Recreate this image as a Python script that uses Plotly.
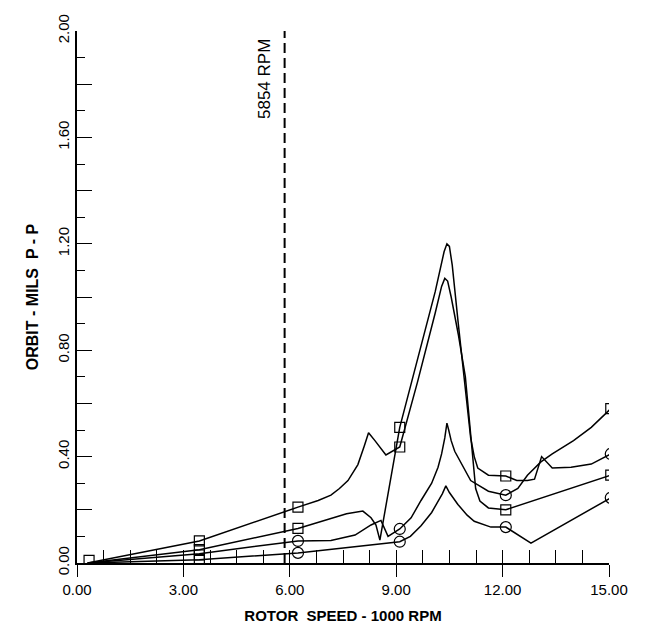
import plotly.graph_objects as go

# ---- data ----
critical_rpm = 5.854  # thousand RPM

curve_a_x = [0.3, 3.45, 6.23, 6.8, 7.16, 7.4, 7.64, 7.92, 8.1, 8.22, 8.4, 8.71, 9.1,
             9.6, 10.1, 10.28, 10.37, 10.45, 10.55, 10.75, 10.95, 11.08, 11.17, 11.24, 11.36, 11.6, 12.09, 15.05]
curve_a_y = [0.0, 0.083, 0.21, 0.235, 0.255, 0.28, 0.31, 0.37, 0.44, 0.49, 0.46, 0.406, 0.436,
             0.68, 0.94, 1.04, 1.07, 1.06, 1.0, 0.86, 0.7, 0.5, 0.36, 0.28, 0.233, 0.207, 0.20, 0.33]

curve_b_x = [0.3, 3.45, 6.23, 7.0, 7.6, 8.06, 8.29, 8.43, 8.54, 9.1,
             9.6, 10.1, 10.35, 10.43, 10.5, 10.58, 10.75, 10.95, 11.1, 11.2, 11.3, 11.6, 12.09,
             12.4, 12.7, 12.9, 13.1, 13.4, 13.93, 14.5, 15.05]
curve_b_y = [0.0, 0.05, 0.13, 0.16, 0.185, 0.195, 0.17, 0.143, 0.086, 0.51,
             0.76, 1.02, 1.17, 1.2, 1.19, 1.12, 0.9, 0.64, 0.47, 0.40, 0.357, 0.33, 0.327,
             0.31, 0.31, 0.315, 0.40, 0.357, 0.36, 0.372, 0.41]

curve_c_x = [0.3, 3.45, 6.23, 6.6, 7.16, 7.84, 8.29, 8.57, 8.77, 9.1,
             9.42, 9.7, 10.0, 10.18, 10.28, 10.37, 10.43, 10.48, 10.55, 10.65, 11.1, 11.6, 12.09,
             12.43, 12.7, 13.08, 13.4, 14.0, 14.5, 15.05]
curve_c_y = [0.0, 0.035, 0.083, 0.083, 0.085, 0.105, 0.143, 0.16, 0.10, 0.128,
             0.17, 0.235, 0.3, 0.36, 0.41, 0.47, 0.526, 0.5, 0.46, 0.42, 0.31, 0.27, 0.255,
             0.28, 0.33, 0.38, 0.41, 0.46, 0.51, 0.58]

curve_d_x = [0.3, 3.45, 6.23, 9.1, 9.4, 9.7, 10.0, 10.18, 10.3, 10.4,
             10.5, 10.74, 11.0, 11.2, 11.67, 12.09, 12.8, 15.05]
curve_d_y = [0.0, 0.012, 0.038, 0.08, 0.1, 0.14, 0.19, 0.233, 0.26, 0.29,
             0.265, 0.22, 0.18, 0.157, 0.135, 0.135, 0.075, 0.245]

square_x = [0.34, 3.45, 3.45, 3.45, 3.45, 6.23, 6.23, 9.1, 9.1, 12.09, 12.09, 15.05, 15.05]
square_y = [0.01, 0.083, 0.05, 0.03, 0.01, 0.21, 0.13, 0.51, 0.436, 0.327, 0.20, 0.58, 0.33]

circle_x = [6.23, 6.23, 9.1, 9.1, 12.09, 12.09, 15.05, 15.05]
circle_y = [0.083, 0.038, 0.128, 0.08, 0.255, 0.135, 0.41, 0.245]

x_tick_vals = [0, 3, 6, 9, 12, 15]
x_tick_text = ["0.00", "3.00", "6.00", "9.00", "12.00", "15.00"]
y_tick_vals = [0.0, 0.2, 0.4, 0.6, 0.8, 1.0, 1.2, 1.4, 1.6, 1.8, 2.0]
y_tick_text = ["0.00", "", "0.40", "", "0.80", "", "1.20", "", "1.60", "", "2.00"]

FONT = "Arial, Liberation Sans, Helvetica, sans-serif"

fig = go.Figure()

for cx, cy in [(curve_a_x, curve_a_y), (curve_b_x, curve_b_y),
               (curve_c_x, curve_c_y), (curve_d_x, curve_d_y)]:
    fig.add_trace(go.Scatter(x=cx, y=cy, mode="lines",
                             line=dict(color="black", width=1.5),
                             showlegend=False, hoverinfo="skip"))

fig.add_trace(go.Scatter(x=[critical_rpm, critical_rpm], y=[0, 2.0], mode="lines",
                         line=dict(color="black", width=2, dash="10px,5px"),
                         showlegend=False, hoverinfo="skip"))

fig.add_trace(go.Scatter(x=square_x, y=square_y, mode="markers",
                         marker=dict(symbol="square-open", size=10, color="black",
                                     line=dict(width=1.2, color="black")),
                         showlegend=False))
fig.add_trace(go.Scatter(x=circle_x, y=circle_y, mode="markers",
                         marker=dict(symbol="circle-open", size=11, color="black",
                                     line=dict(width=1.2, color="black")),
                         showlegend=False))

# invisible trace on overlay axis so it renders
fig.add_trace(go.Scatter(x=[0], y=[0], xaxis="x2", yaxis="y", mode="markers",
                         marker=dict(opacity=0), showlegend=False, hoverinfo="skip"))

fig.add_annotation(x=critical_rpm, y=1.82, xref="x", yref="y",
                   text=f"{round(critical_rpm*1000)} RPM", textangle=-90,
                   showarrow=False, xanchor="right", yanchor="middle", xshift=-8,
                   font=dict(family=FONT, size=17, color="black"))

fig.update_layout(
    width=647, height=629,
    margin=dict(l=69, r=46, t=23, b=74),
    paper_bgcolor="white", plot_bgcolor="white",
    font=dict(family=FONT, color="black"),
    xaxis=dict(range=[0, 15], showgrid=False, zeroline=False, automargin=False,
               showline=True, linecolor="black", linewidth=2,
               tickmode="array", tickvals=x_tick_vals, ticktext=x_tick_text,
               ticks="outside", ticklen=12, tickwidth=1.2, tickcolor="black",
               tickfont=dict(size=15, family=FONT),
               title=dict(text="<b>ROTOR  SPEED - 1000 RPM</b>", font=dict(size=15, family=FONT), standoff=13)),
    xaxis2=dict(range=[0, 15], overlaying="x", anchor="y", side="bottom", showgrid=False,
                zeroline=False, showline=False, showticklabels=False, automargin=False,
                ticks="inside", dtick=0.75, tick0=0, ticklen=13, tickwidth=1.2, tickcolor="black"),
    yaxis=dict(range=[0, 2.0], showgrid=False, zeroline=False, automargin=False,
               showline=True, linecolor="black", linewidth=2,
               tickmode="array", tickvals=y_tick_vals, ticktext=y_tick_text,
               ticks="inside", ticklen=15, tickwidth=1.2, tickcolor="black",
               tickangle=-90, tickfont=dict(size=15, family=FONT),
               minor=dict(ticks="inside", dtick=0.1, tick0=0, ticklen=8, tickwidth=1.2, tickcolor="black"),
               title=dict(text="<b>ORBIT - MILS  P - P</b>", font=dict(size=16, family=FONT), standoff=12)),
)

fig.write_html("out.html")
